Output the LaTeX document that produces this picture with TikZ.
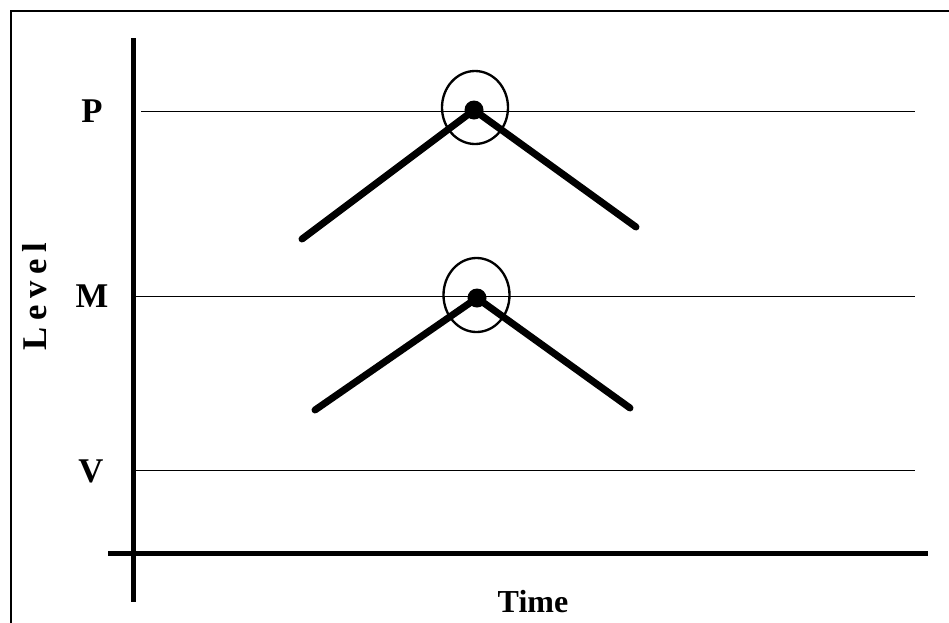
\documentclass[tikz,border=0pt]{standalone}
\usepackage{fontspec}
\setmainfont{Liberation Serif}
\usepackage{tikz}
\usetikzlibrary{positioning}

\tikzset{
    levelline/.style={line width=0.75},
    peakline/.style={line width=5.25, line cap=round},
    axisline/.style={line width=3.75},
    peakring/.style={line width=1.75},
    lbl/.style={inner sep=0.75pt, font=\bfseries\fontsize{26}{26}\selectfont}
}

\begin{document}
\begin{tikzpicture}[x=0.75pt,y=0.75pt,yscale=-1,xscale=1]
    \useasboundingbox (0,0) rectangle (949,622);

    %Frame
    \draw [line width=1.5] (11,640) -- (11,11) -- (970,11) ;

    %Axes
    \coordinate (ytop) at (133,38);
    \coordinate (ybot) at (133,602);
    \coordinate (xleft) at (108,553);
    \coordinate (xright) at (928,553);
    \draw [axisline] (ytop) -- (ybot) ;
    \draw [axisline] (xleft) -- (xright) ;

    %Level lines
    \coordinate (pL) at (141,111);  \coordinate (pR) at (915,111);
    \coordinate (mL) at (135,296);  \coordinate (mR) at (915,296);
    \coordinate (vL) at (135,470);  \coordinate (vR) at (915,470);
    \draw [levelline] (pL) -- (pR) ;
    \draw [levelline] (mL) -- (mR) ;
    \draw [levelline] (vL) -- (vR) ;

    %Upper peak
    \coordinate (ptop) at (474,110);
    \coordinate (pa) at (302,239);
    \coordinate (pb) at (636,227);
    \draw [peakline] (pa) -- (ptop) -- (pb) ;
    \fill (ptop) circle [radius=9.5] ;
    \draw [peakring] (475,107.5) ellipse [x radius=33, y radius=36.5] ;

    %Lower peak
    \coordinate (mtop) at (477,298);
    \coordinate (ma) at (315,410);
    \coordinate (mb) at (630,408);
    \draw [peakline] (ma) -- (mtop) -- (mb) ;
    \fill (mtop) circle [radius=9.5] ;
    \draw [peakring] (476.5,295) ellipse [x radius=33, y radius=37] ;

    % Text Node
    \node [lbl] (P) at (92,111) {P};
    % Text Node
    \node [lbl] (M) at (92,296) {M};
    % Text Node
    \node [lbl] (V) at (91,471) {V};
    % Text Node
    \node [lbl, rotate=90] (level) at (35,297) {L\kern5pt e\kern5pt v\kern5pt e\kern5pt l};
    % Text Node
    \node [lbl, font=\bfseries\fontsize{24}{24}\selectfont] (time) at (533,602) {Time};
\end{tikzpicture}
\end{document}
